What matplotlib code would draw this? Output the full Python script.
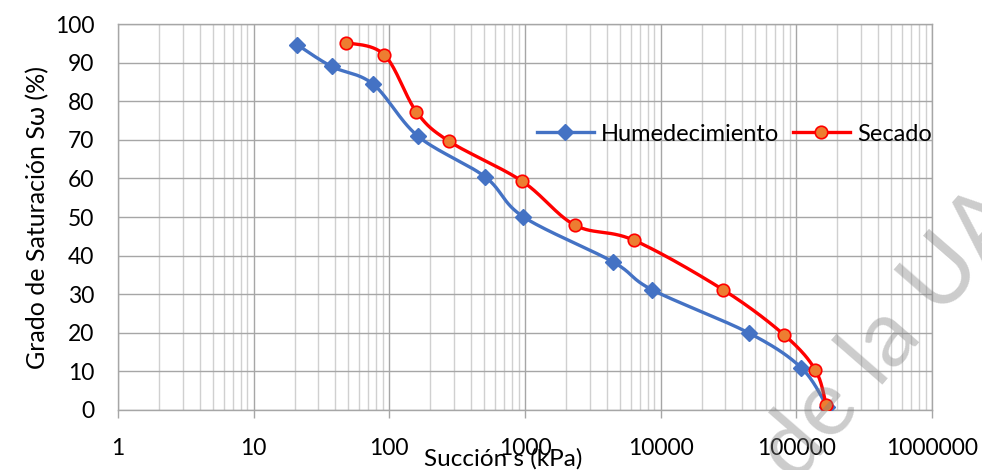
import numpy as np
import matplotlib
matplotlib.use("Agg")
import matplotlib.pyplot as plt
from matplotlib.ticker import LogLocator, FixedLocator, NullFormatter

plt.rcParams['font.family'] = ['Lato', 'DejaVu Sans']

# Curva de retención: succión (kPa) vs grado de saturación (%)
hum_s = [21, 37.5, 76, 163, 508, 967, 4440, 8590, 45000, 109000, 169000]
hum_sw = [94.6, 89.0, 84.4, 70.9, 60.4, 50.1, 38.4, 31.2, 19.9, 10.9, 0.8]
sec_s = [48, 92, 158, 276, 950, 2330, 6330, 29000, 81700, 138000, 166000]
sec_sw = [95.2, 92.0, 77.3, 69.6, 59.3, 47.9, 44.0, 31.1, 19.4, 10.4, 1.3]

x_ticks = [1, 10, 100, 1000, 10000, 100000, 1000000]
x_tick_labels = ["1", "10", "100", "1000", "10000", "100000", "1000000"]
y_ticks = list(range(0, 101, 10))


def smooth_line(xs, ys, n=30, sx=136.0, sy=3.87):
    """Bezier smoothing (spreadsheet style) done in log-x screen space."""
    pts = np.column_stack([np.log10(xs) * sx, np.asarray(ys) * sy])
    out = [pts[0]]
    t = np.linspace(0, 1, n)[1:, None]
    for i in range(len(pts) - 1):
        p0 = pts[i - 1] if i > 0 else pts[i]
        p1 = pts[i]
        p2 = pts[i + 1]
        p3 = pts[i + 2] if i + 2 < len(pts) else pts[i + 1]
        c1 = p1 + (p2 - p0) / 6
        c2 = p2 - (p3 - p1) / 6
        seg = (1 - t) ** 3 * p1 + 3 * (1 - t) ** 2 * t * c1 + 3 * (1 - t) * t ** 2 * c2 + t ** 3 * p2
        out.extend(seg)
    out = np.array(out)
    return 10 ** (out[:, 0] / sx), out[:, 1] / sy


fig = plt.figure(figsize=(9.82, 4.70), dpi=100)
ax = fig.add_axes([118 / 982, 1 - 410 / 470, (932 - 118) / 982, (410 - 24) / 470])

blue = '#4472C4'
red = '#FF0000'
orange = '#ED7D31'

hx, hy = smooth_line(hum_s, hum_sw)
sx_, sy_ = smooth_line(sec_s, sec_sw)

ax.plot(hx, hy, color=blue, lw=2.4, zorder=3)
ax.plot(hum_s, hum_sw, ls='none', marker='D', ms=8.5, color=blue, zorder=4)
ax.plot(sx_, sy_, color=red, lw=2.4, zorder=5)
ax.plot(sec_s, sec_sw, ls='none', marker='o', ms=9, mfc=orange, mec=red, mew=1.2, zorder=6)

# legend entries
ax.plot([], [], color=blue, lw=2.4, marker='D', ms=8.5, label='Humedecimiento')
ax.plot([], [], color=red, lw=2.4, marker='o', ms=9, mfc=orange, mec=red, mew=1.2, label='Secado')

ax.set_xscale('log')
ax.set_xlim(1, 1e6)
ax.set_ylim(0, 100)

ax.xaxis.set_major_locator(FixedLocator(x_ticks))
ax.set_xticklabels(x_tick_labels)
ax.xaxis.set_minor_locator(LogLocator(base=10, subs=np.arange(2, 10), numticks=100))
ax.xaxis.set_minor_formatter(NullFormatter())
ax.set_yticks(y_ticks)

ax.grid(which='major', color='#a6a6a6', lw=1.0, zorder=0)
ax.grid(which='minor', axis='x', color='#d0d0d0', lw=1.0, zorder=0)
ax.set_axisbelow(True)

for side in ['top', 'right', 'left', 'bottom']:
    ax.spines[side].set_color('#a6a6a6')
    ax.spines[side].set_linewidth(1.0)

ax.tick_params(axis='x', which='major', length=6, width=1, color='#a6a6a6', pad=14, labelsize=16.5)
ax.tick_params(axis='x', which='minor', length=0)
ax.tick_params(axis='y', which='both', length=0, pad=17, labelsize=16.5)

ax.set_ylabel('Grado de Saturación Sω (%)', fontsize=18, labelpad=4)
fig.text(503 / 982, 1 - 459 / 470, 'Succión s (kPa)', ha='center', va='center', fontsize=17.5)

ax.legend(loc='center', bbox_to_anchor=(0.757, 0.715), ncol=2, frameon=False, fontsize=17,
          handlelength=2.4, handletextpad=0.3, columnspacing=0.6)

# marca de agua
fig.text(795 / 982, 1 - 485 / 470, 'de la UA', rotation=49, rotation_mode='anchor',
         ha='left', va='baseline', fontsize=68, color='#808080', alpha=0.4, zorder=10)

fig.savefig('out.png', dpi=100)
